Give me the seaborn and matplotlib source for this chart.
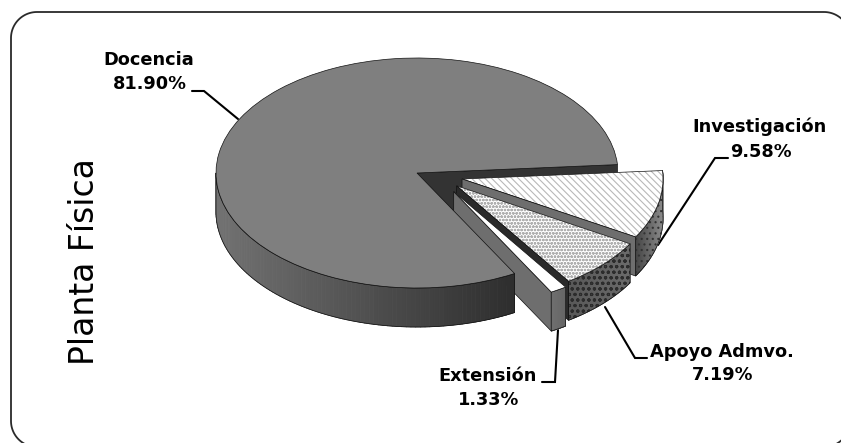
import numpy as np
import matplotlib
matplotlib.use("Agg")
import matplotlib.pyplot as plt
from matplotlib.collections import PolyCollection
from matplotlib.patches import Polygon, Wedge
import seaborn as sns

# Share of physical plant by university function
categories = ["Docencia", "Extensión", "Apoyo Admvo.", "Investigación"]
shares = [81.90, 1.33, 7.19, 9.58]
value_labels = ["81.90%", "1.33%", "7.19%", "9.58%"]
chart_title = "Planta Física"

sns.set_theme(style="white")
plt.rcParams["font.family"] = ["DejaVu Sans"]
plt.rcParams["hatch.linewidth"] = 0.8

W, H = 841, 443
fig = plt.figure(figsize=(W / 100, H / 100), dpi=100, facecolor="white")

# Pixel-space layer for the frame, labels and leader lines
page = fig.add_axes([0, 0, 1, 1], zorder=0)
page.set_xlim(0, W)
page.set_ylim(H, 0)
page.axis("off")


def rounded_frame(x0, y0, x1, y1, r):
    """Rounded rectangle with true circular corners, as a closed outline."""
    pts = []
    for cx, cy, start in [(x1 - r, y0 + r, -90), (x1 - r, y1 - r, 0),
                          (x0 + r, y1 - r, 90), (x0 + r, y0 + r, 180)]:
        a = np.deg2rad(np.linspace(start, start + 90, 30))
        pts.extend(zip(cx + r * np.cos(a), cy + r * np.sin(a)))
    return pts


page.add_patch(Polygon(rounded_frame(11, 12, 850, 447, 26), closed=True,
                       fc="none", ec="#2a2a2a", lw=1.3))

# Pie layer: one data unit is one radius, squashed into an ellipse for the tilt
CX, CY, RX, RY = 417, 173, 201, 115
DEPTH = 39 / RY
pie_ax = fig.add_axes([0, 0, 1, 1], zorder=1)
pie_ax.patch.set_alpha(0)

top_colors = ["#7f7f7f", "white", "white", "white"]
wedges, _ = pie_ax.pie(shares, startangle=4.2, counterclock=True, radius=1,
                       explode=[0, 0.35, 0.27, 0.23], colors=top_colors,
                       wedgeprops=dict(linewidth=0))
pie_ax.set_aspect("auto")
pie_ax.set_xlim(-CX / RX, (W - CX) / RX)
pie_ax.set_ylim(-(H - CY) / RY, CY / RY)
pie_ax.axis("off")

# Perspective flattens how far the slices travel toward the viewer
lift = [1.0, 0.54, 0.6, 1.0]
for w, k in zip(wedges, lift):
    cx, cy = w.center
    w.set_center((cx, cy * k))

doc, ext, apo, inv = wedges


def corner(w, deg, drop=0.0):
    a = np.deg2rad(deg)
    return w.center[0] + w.r * np.cos(a), w.center[1] + w.r * np.sin(a) - drop


def radial_wall(w, deg, color, z):
    p = [w.center, corner(w, deg),
         corner(w, deg, DEPTH), (w.center[0], w.center[1] - DEPTH)]
    pie_ax.add_patch(Polygon(p, closed=True, fc=color, ec="#111111", lw=0.5, zorder=z))


def rim_wall(w, a0, a1, left, right, z, hatch=None, hatch_color="#222222"):
    """Outer side of a slice, shaded from left to right in strips."""
    angles = np.linspace(a0, a1, 90)
    xs = [corner(w, a)[0] for a in angles]
    lo, hi = min(xs), max(xs)
    cmap = sns.blend_palette([left, right], as_cmap=True)
    quads, shades = [], []
    for a, b in zip(angles[:-1], angles[1:]):
        quads.append([corner(w, a), corner(w, b), corner(w, b, DEPTH), corner(w, a, DEPTH)])
        t = (0.5 * (corner(w, a)[0] + corner(w, b)[0]) - lo) / (hi - lo)
        shades.append(cmap(t))
    pie_ax.add_collection(PolyCollection(quads, facecolors=shades, edgecolors=shades,
                                         linewidths=0.6, zorder=z))
    outline = [corner(w, a) for a in angles] + [corner(w, a, DEPTH) for a in angles[::-1]]
    if hatch:
        pie_ax.add_patch(Polygon(outline, closed=True, fc="none", ec=hatch_color, lw=0,
                                 hatch=hatch, zorder=z))
    pie_ax.add_patch(Polygon(outline, closed=True, fc="none", ec="#111111", lw=0.5, zorder=z))


def top_outline(w, z):
    pie_ax.add_patch(Wedge(w.center, w.r, w.theta1, w.theta2, fc="none",
                           ec="#111111", lw=0.5, zorder=z))


# Painted back to front; the main slice sits in front of the extension's inner wall
radial_wall(doc, doc.theta1, "#333333", 1)

rim_wall(inv, inv.theta1, inv.theta2, "#444444", "#8a8a8a", 2, hatch="...", hatch_color="#333333")
inv.set(zorder=3, hatch="\\\\\\\\\\", edgecolor="#b8b8b8")
top_outline(inv, 3.1)
radial_wall(inv, inv.theta1, "#6e6e6e", 4)

rim_wall(apo, apo.theta1, apo.theta2, "#585858", "#6a6a6a", 5, hatch="ooo", hatch_color="#2c2c2c")
apo.set(zorder=6, hatch="ooooo", edgecolor="#b0b0b0")
top_outline(apo, 6.1)
radial_wall(apo, apo.theta1, "#2a2a2a", 7)

radial_wall(ext, ext.theta1, "#6e6e6e", 8)

rim_wall(doc, 180, doc.theta2, "#727272", "#2e2e2e", 9)
doc.set(zorder=9.5)
top_outline(doc, 9.6)

rim_wall(ext, ext.theta1, ext.theta2, "#707070", "#666666", 10)
ext.set(zorder=11)
top_outline(ext, 11.1)

# Labels and their leader lines, in pixels
label_spots = {
    "Docencia": ((149, 60), (150, 84)),
    "Extensión": ((488, 376), (489, 400)),
    "Apoyo Admvo.": ((722, 352), (723, 375)),
    "Investigación": ((760, 127), (761, 152)),
}
leaders = {
    "Docencia": [(192, 91), (204, 91), (238, 119)],
    "Extensión": [(542, 382), (555, 382), (558, 330)],
    "Apoyo Admvo.": [(647, 358), (635, 358), (605, 307)],
    "Investigación": [(728, 158), (715, 158), (658, 245)],
}
for name, val in zip(categories, value_labels):
    (nx, ny), (vx, vy) = label_spots[name]
    page.text(nx, ny, name, ha="center", va="center", fontsize=12.8,
              fontweight="bold", color="black")
    page.text(vx, vy, val, ha="center", va="center", fontsize=12.8,
              fontweight="bold", color="black")
    xs, ys = zip(*leaders[name])
    page.plot(xs, ys, color="black", lw=1.5, solid_joinstyle="miter")

page.text(85, 262, chart_title, rotation=90, ha="center", va="center",
          fontsize=23.8, color="black")

fig.savefig("out.png", dpi=100, facecolor="white")
